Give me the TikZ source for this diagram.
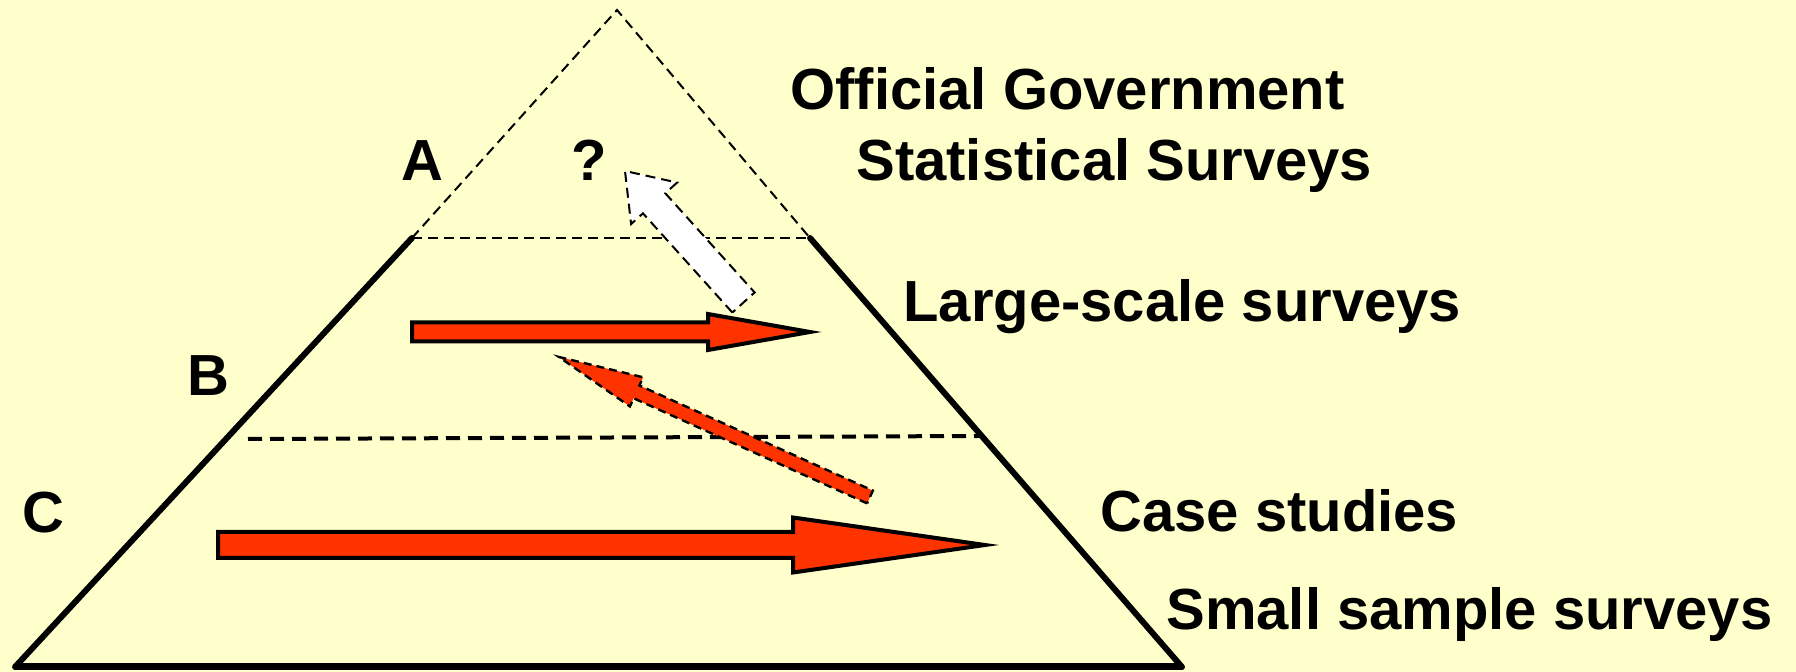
\documentclass[tikz,border=0pt]{standalone}
\usepackage{fontspec}
\setmainfont{Liberation Sans}
\usetikzlibrary{calc}
\definecolor{bgyellow}{HTML}{FFFFCC}
\definecolor{arrowred}{HTML}{FF3300}
\newcommand{\blockarr}[6]{%
  \coordinate (#2b) at ($(#3)!#6!(#2)$);
  \draw[#1] ($(#2)!#4!90:(#3)$) -- ($(#2b)!#4!90:(#3)$) -- ($(#2b)!#5!90:(#3)$) -- (#3)
    -- ($(#2b)!#5!-90:(#3)$) -- ($(#2b)!#4!-90:(#3)$) -- ($(#2)!#4!-90:(#3)$) -- cycle;
}
\begin{document}
\begin{tikzpicture}[x=0.5pt,y=-0.5pt,
  side/.style={line width=3pt,line cap=round},
  base/.style={line width=3.5pt},
  thindash/.style={line width=1pt,dash pattern=on 5pt off 3pt},
  thickdash/.style={line width=2pt,dash pattern=on 7pt off 4pt},
  label/.style={font=\bfseries\fontsize{29pt}{34pt}\selectfont,inner sep=0pt},
  solidarrow/.style={fill=arrowred,draw=black,line width=2pt,line join=miter},
  dasharrow/.style={fill=arrowred,draw=black,line width=1.2pt,dash pattern=on 4pt off 2.5pt},
  whitearrow/.style={fill=white,draw=black,line width=1pt,dash pattern=on 5pt off 3pt}]
\fill[bgyellow] (0,0) rectangle (1796,672);
\useasboundingbox (0,0) rectangle (1796,672);
% pyramid
\coordinate (apex) at (617,10);
\coordinate (bl) at (15,667);
\coordinate (br) at (1182,667);
\coordinate (tl) at (412,238);
\coordinate (tr) at (810,238);
\coordinate (ml) at (248,439);
\coordinate (mr) at (979,436);
\draw[thindash] (tl) -- (apex) -- (tr);
\draw[thindash] (tl) -- (tr);
\draw[thickdash] (ml) -- (mr);
\draw[side] (tl) -- (bl);
\draw[side] (tr) -- (br);
\draw[base] (bl) -- (br);
% arrows
\coordinate (T1) at (412,332); \coordinate (H1) at (810,332);
\coordinate (T2) at (218,545); \coordinate (H2) at (985,545);
\coordinate (T3) at (870,497); \coordinate (H3) at (559,357);
\coordinate (T4) at (743.5,302.5); \coordinate (H4) at (625,171);
\blockarr{whitearrow}{T4}{H4}{7.5pt}{15.5pt}{21.75pt}
\blockarr{solidarrow}{T1}{H1}{4.75pt}{9pt}{51pt}
\blockarr{dasharrow}{T3}{H3}{3.5pt}{8pt}{42.5pt}
\blockarr{solidarrow}{T2}{H2}{6.5pt}{13.75pt}{96pt}
% texts
\node[label,anchor=base west] (official) at (790,110) {Official Government};
\node[label,anchor=base west] (statistical) at (856,181) {Statistical Surveys};
\node[label,anchor=base west] (large) at (903,322) {Large-scale surveys};
\node[label,anchor=base west] (case) at (1100,532) {Case studies};
\node[label,anchor=base west] (small) at (1166,630) {Small sample surveys};
\node[label,anchor=base] (A) at (422,181) {A};
\node[label,anchor=base] (Q) at (589,181) {?};
\node[label,anchor=base] (B) at (208,396) {B};
\node[label,anchor=base] (C) at (43,533) {C};
\end{tikzpicture}
\end{document}
